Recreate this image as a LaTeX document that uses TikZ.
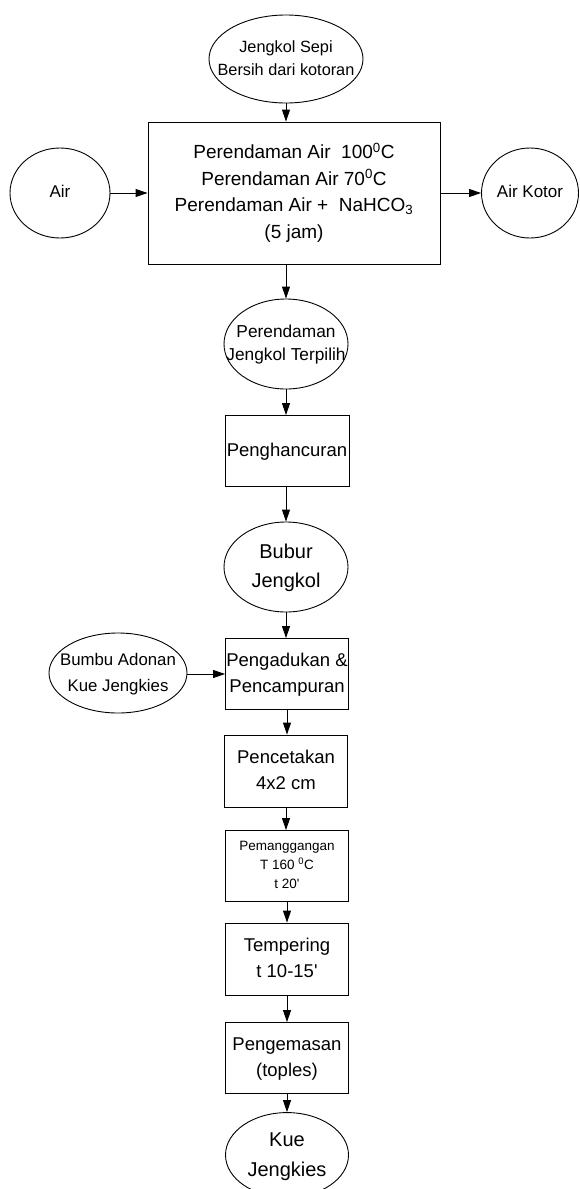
\documentclass[tikz,border=0pt]{standalone}
\usepackage{fontspec}
\setmainfont{Liberation Sans}
\usetikzlibrary{shapes.geometric,arrows.meta}
\newcommand{\ptxt}[1]{\makebox[0pt]{\begin{tabular}{@{}c@{}}#1\end{tabular}}}

\begin{document}
\begin{tikzpicture}[x=1pt,y=-1pt]
			\tikzset{every node/.style={inner sep=0pt,align=center}}
			\tikzset{proses/.style={draw,line width=0.9pt,rectangle,minimum width=123pt,minimum height=71pt,font=\fontsize{18.5}{26}\selectfont}}
			\tikzset{bahan/.style={draw,line width=0.9pt,ellipse,minimum width=124pt,minimum height=90pt,font=\fontsize{17}{23}\selectfont}}
			\tikzset{alir/.style={line width=0.9pt,-{Triangle[length=12pt,width=8pt]}}}
			\useasboundingbox (0,0) rectangle (579,1189);
			\node[bahan,minimum width=154pt,minimum height=88pt,font=\fontsize{16.3}{23}\selectfont] (jengkol) at (286,59) {\ptxt{Jengkol Sepi\\Bersih dari kotoran}};
			\node[proses,minimum width=292pt,minimum height=142pt,font=\fontsize{19}{26.5}\selectfont] (rendam) at (294,193)
				{\ptxt{Perendaman Air\ \ 100\textsuperscript{0}C\\Perendaman Air 70\textsuperscript{0}C\\Perendaman Air +\ \ NaHCO\textsubscript{3}\\(5 jam)}};
			\node[bahan,minimum width=100pt] (air) at (60,193) {\ptxt{Air}};
			\node[bahan,minimum width=97pt] (kotor) at (530,193) {\ptxt{Air Kotor}};
			\node[bahan,font=\fontsize{17.3}{23}\selectfont] (terpilih) at (286,344) {\ptxt{Perendaman\\Jengkol Terpilih}};
			\node[proses,minimum width=124pt] (hancur) at (287,451) {\ptxt{Penghancuran}};
			\node[bahan,font=\fontsize{20}{29}\selectfont] (bubur) at (286,567) {\ptxt{Bubur\\Jengkol}};
			\node[bahan,minimum width=138pt,minimum height=80pt,font=\fontsize{16.8}{26}\selectfont] (bumbu) at (118,673) {\ptxt{Bumbu Adonan\\Kue Jengkies}};
			\node[proses] (aduk) at (287,674) {\ptxt{Pengadukan \&\\Pencampuran}};
			\node[proses,minimum height=72pt] (cetak) at (286,771) {\ptxt{Pencetakan\\4x2 cm}};
			\node[proses,font=\fontsize{13.5}{19}\selectfont] (panggang) at (287,866) {\ptxt{Pemanggangan\\T 160 \textsuperscript{0}C\\t 20\textquotesingle}};
			\node[proses,minimum height=72pt] (tempering) at (287,959) {\ptxt{Tempering\\t 10-15\textquotesingle}};
			\node[proses] (kemas) at (287,1058) {\ptxt{Pengemasan\\(toples)}};
			\node[bahan,minimum width=123pt,minimum height=84pt,font=\fontsize{20}{30}\selectfont] (kue) at (287,1155) {\ptxt{Kue\\Jengkies}};
			\draw[alir] (jengkol.south) -- (jengkol.south |- rendam.north);
			\draw[alir] (air.east) -- (rendam.west |- air.east);
			\draw[alir] (rendam.east |- kotor.west) -- (kotor.west);
			\draw[alir] (rendam.south -| terpilih.north) -- (terpilih.north);
			\draw[alir] (terpilih.south) -- (terpilih.south |- hancur.north);
			\draw[alir] (hancur.south -| bubur.north) -- (bubur.north);
			\draw[alir] (bubur.south) -- (bubur.south |- aduk.north);
			\draw[alir] (bumbu.east |- aduk.west) -- (aduk.west);
			\draw[alir] (aduk.south) -- (aduk.south |- cetak.north);
			\draw[alir] (cetak.south) -- (cetak.south |- panggang.north);
			\draw[alir] (panggang.south) -- (panggang.south |- tempering.north);
			\draw[alir] (tempering.south) -- (tempering.south |- kemas.north);
			\draw[alir] (kemas.south) -- (kemas.south |- kue.north);
		\end{tikzpicture}
\end{document}
